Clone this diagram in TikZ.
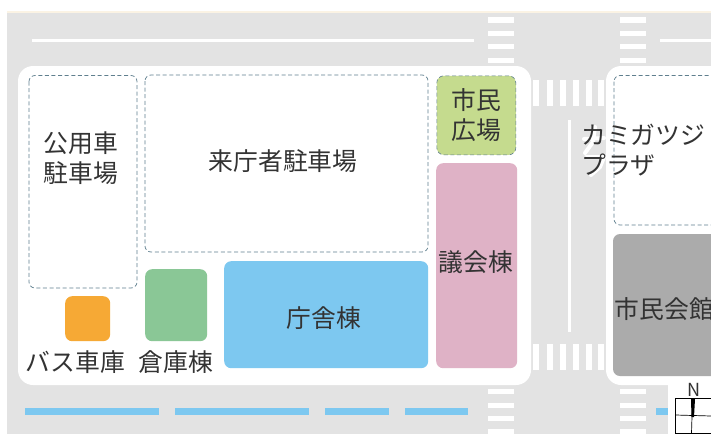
\documentclass[tikz,border=0pt]{standalone}
\usepackage{fontspec}
\setmainfont{Noto Sans CJK JP}
\begin{document}
\begin{tikzpicture}[x=1pt,y=-1pt,
  road/.style={fill=roadgray,draw=none},
  block/.style={fill=white,draw=none,rounded corners=15pt},
  stripe/.style={fill=white,draw=none},
  cycle lane/.style={fill=laneblue,draw=none},
  lot/.style={draw=lotline,dashed,dash pattern=on 4pt off 2.6pt,line width=.7pt,rounded corners=6pt},
  bldg/.style={draw=none,rounded corners=7pt},
  lbl/.style={text=ink,font=\fontsize{24.8}{30}\selectfont,align=center,inner sep=0pt},
  halo/.style={draw=white,line width=4pt,line cap=round,line join=round}]
\definecolor{roadgray}{HTML}{E3E3E3}
\definecolor{cream}{HTML}{FBF3E4}
\definecolor{laneblue}{HTML}{7DC8F0}
\definecolor{lotline}{HTML}{5F7F8E}
\definecolor{ink}{HTML}{333333}
\useasboundingbox (0,0) rectangle (711,434);
\fill[white] (0,0) rectangle (711,434);
\fill[cream] (7,11) rectangle (711,13);
\fill[road] (7,12.5) rectangle (711,434);
% compass background
\fill[white] (668,385) rectangle (711,434);
% blocks
\fill[block] (18,66) rectangle (531,385);
\fill[block] (606,66) rectangle (740,385);
% centre lines
\fill[stripe] (32,38.5) rectangle (474,41.7);
\fill[stripe] (660,38.5) rectangle (711,41.7);
\fill[stripe] (568,120) rectangle (571,332);
% crossings, horizontal bars
\foreach \x in {487.5,620}{
  \foreach \a/\b in {17/23,31/36,44/49,57.5/63,389/394,403/408,416/421,429/434}
    \fill[stripe] (\x,\a) rectangle (\x+26,\b);}
% crossings, vertical bars
\foreach \a/\b in {80/106,344/370}{
  \foreach \x/\w in {533/539,547/552.5,560/565.5,573/579,586/592,598/604}
    \fill[stripe] (\x,\a) rectangle (\w,\b);}
% blue lane
\foreach \a/\b in {25/158.5,175/309,325/389,405/468,656/668}
  \fill[cycle lane] (\a,408) rectangle (\b,415);
% lots
\draw[lot] (29,75.5) rectangle (137,288);
\draw[lot] (145,75) rectangle (428,252);
\draw[lot,fill=white] (614,75.5) rectangle (730,225);
% buildings
\node[bldg,fill={rgb,255:red,197;green,219;blue,142},draw=lotline,dashed,dash pattern=on 4pt off 2.6pt,line width=.6pt,anchor=north west,minimum width=79pt,minimum height=79pt,inner sep=0pt] (plaza) at (436.5,75.5) {};
\node[bldg,fill={rgb,255:red,223;green,178;blue,198},anchor=north west,minimum width=81pt,minimum height=205pt,inner sep=0pt] (council) at (436,163) {};
\node[bldg,fill=laneblue,anchor=north west,minimum width=204pt,minimum height=107pt,inner sep=0pt] (main) at (224,261) {};
\node[bldg,fill={rgb,255:red,138;green,199;blue,150},anchor=north west,minimum width=62pt,minimum height=72pt,inner sep=0pt] (store) at (145,269) {};
\node[bldg,fill={rgb,255:red,246;green,169;blue,53},anchor=north west,minimum width=45pt,minimum height=45pt,inner sep=0pt] (bus) at (65,296) {};
\path[bldg,fill={rgb,255:red,171;green,171;blue,171}] (613,234) rectangle (740,376);
% white edge behind the plaza label
\draw[halo] (584,139) -- (604,138) (595,127) -- (593,142) -- (585,153);
\draw[halo] (586,157) -- (604,157) -- (600,167) -- (591,175);
% labels
\node[lbl] (l1) at (81,158) {公用車\\駐車場};
\node[lbl] (l2) at (283,161) {来庁者駐車場};
\node[lbl] (l3) at (476,115) {市民\\広場};
\node[lbl] (l4) at (476,262) {議会棟};
\node[lbl] (l5) at (324,318) {庁舎棟};
\node[lbl] (l6) at (176,362.5) {倉庫棟};
\node[lbl] (l7) at (75.5,362.5) {バス車庫};
\node[lbl,align=left,anchor=west] (l8) at (581,150) {カミガツジ\\プラザ};
\node[lbl,anchor=west] (l9) at (614.5,309) {市民会館};
% compass
\node[text=ink,font=\fontsize{18}{18}\selectfont,inner sep=0pt] (north) at (693.5,390) {N};
\draw[black,line width=.8pt,fill=white] (675.5,398.5) rectangle (711,433);
\draw[black,line width=.7pt] (675.5,415) -- (711,416);
\draw[black,line width=.7pt] (692.5,400) -- (691.5,433);
\fill[black] (691,399) -- (695,399) -- (694,417) -- (691.5,417) -- cycle;
\end{tikzpicture}
\end{document}
